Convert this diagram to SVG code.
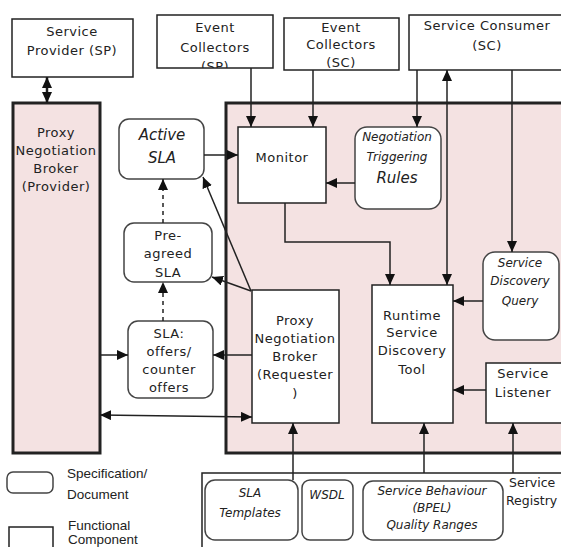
<svg xmlns="http://www.w3.org/2000/svg" width="561" height="547" viewBox="0 0 561 547">
<style>
.box{fill:#fff;stroke:#222;stroke-width:1.5}
.doc{fill:#fff;stroke:#444;stroke-width:1.5}
.pink{fill:#f4e2e2;stroke:#222;stroke-width:3}
.t{font-family:"DejaVu Sans",sans-serif;font-size:13px;letter-spacing:0.5px;fill:#222;text-anchor:middle}
.s{text-anchor:start}
.i{font-family:"DejaVu Sans",sans-serif;font-style:italic;font-size:12px;fill:#222;text-anchor:middle}
.ib{font-family:"DejaVu Sans",sans-serif;font-style:italic;font-size:15px;fill:#222;text-anchor:middle}
.lg{font-family:"Liberation Sans",Arial,sans-serif;font-size:13.5px;fill:#222}
.c{fill:none;stroke:#222;stroke-width:1.5}
.d{fill:none;stroke:#222;stroke-width:1.5;stroke-dasharray:4,4}
</style>
<defs>
<marker id="ah" markerUnits="userSpaceOnUse" markerWidth="11" markerHeight="10" refX="11" refY="5" orient="auto-start-reverse">
<path d="M0,0 L11,5 L0,10 z" fill="#111"/>
</marker>
<clipPath id="ecsp"><rect x="157" y="15" width="116" height="53"/></clipPath>
</defs>
<rect width="561" height="547" fill="#fff"/>

<g id="main-region"><rect class="pink" x="226" y="103" width="345" height="350"/></g>
<g id="registry-region"><rect class="box" x="202" y="473" width="370" height="90"/>
<text class="t s" x="509" y="487" style="letter-spacing:0;font-size:12.5px">Service</text>
<text class="t s" x="506" y="505" style="letter-spacing:0;font-size:12.5px">Registry</text></g>

<g id="sp"><rect class="box" x="12" y="19" width="121" height="58"/>
<text class="t" x="72" y="36">Service</text><text class="t" x="72" y="55">Provider (SP)</text></g>

<g id="ec-sp"><rect class="box" x="157" y="15" width="116" height="53"/>
<g clip-path="url(#ecsp)"><text class="t" x="215" y="32">Event</text><text class="t" x="215" y="52">Collectors</text><text class="t" x="215" y="71">(SP)</text></g></g>

<g id="ec-sc"><rect class="box" x="284" y="18" width="115" height="52"/>
<text class="t" x="341" y="32">Event</text><text class="t" x="341" y="49">Collectors</text><text class="t" x="341" y="67">(SC)</text></g>

<g id="sc"><rect class="box" x="409" y="15" width="162" height="55"/>
<text class="t" x="487" y="30">Service Consumer</text><text class="t" x="487" y="50">(SC)</text></g>

<g id="pnb-provider"><rect class="pink" x="13" y="103" width="87" height="350"/>
<text class="t" x="56" y="137">Proxy</text><text class="t" x="56" y="155">Negotiation</text><text class="t" x="56" y="173">Broker</text><text class="t" x="56" y="191">(Provider)</text></g>

<g id="active-sla"><rect class="doc" x="119" y="119" width="85" height="60" rx="10"/>
<text class="ib" x="162" y="140">Active</text><text class="ib" x="162" y="163">SLA</text></g>

<g id="pre-agreed"><rect class="doc" x="124" y="223" width="88" height="59" rx="10"/>
<text class="t" x="168" y="240">Pre-</text><text class="t" x="168" y="258">agreed</text><text class="t" x="168" y="277">SLA</text></g>

<g id="sla-offers"><rect class="doc" x="128" y="321" width="85" height="77" rx="10"/>
<text class="t" x="169" y="338">SLA:</text><text class="t" x="169" y="356">offers/</text><text class="t" x="169" y="374">counter</text><text class="t" x="169" y="392">offers</text></g>

<g id="monitor"><rect class="box" x="238" y="127" width="88" height="76"/>
<text class="t" x="282" y="162">Monitor</text></g>

<g id="ntr"><rect class="doc" x="355" y="127" width="86" height="82" rx="12"/>
<text class="i" x="397" y="141">Negotiation</text><text class="i" x="397" y="161">Triggering</text><text class="ib" x="397" y="183">Rules</text></g>

<g id="pnb-requester"><rect class="box" x="252" y="290" width="87" height="133"/>
<text class="t" x="295" y="325">Proxy</text><text class="t" x="295" y="343">Negotiation</text><text class="t" x="295" y="361">Broker</text><text class="t" x="295" y="379">(Requester</text><text class="t" x="295" y="398">)</text></g>

<g id="runtime"><rect class="box" x="372" y="285" width="81" height="138"/>
<text class="t" x="412" y="320">Runtime</text><text class="t" x="412" y="337">Service</text><text class="t" x="412" y="355">Discovery</text><text class="t" x="412" y="374">Tool</text></g>

<g id="sdq"><rect class="doc" x="483" y="252" width="76" height="88" rx="12"/>
<text class="i" x="520" y="267">Service</text><text class="i" x="520" y="285">Discovery</text><text class="i" x="520" y="305">Query</text></g>

<g id="listener"><rect class="box" x="486" y="363" width="80" height="60"/>
<text class="t" x="523" y="378">Service</text><text class="t" x="523" y="397">Listener</text></g>

<g id="sla-templates"><rect class="doc" x="205" y="480" width="93" height="60" rx="10"/>
<text class="i" x="250" y="497">SLA</text><text class="i" x="250" y="517">Templates</text></g>

<g id="wsdl"><rect class="doc" x="302" y="480" width="51" height="60" rx="8"/>
<text class="i" x="327" y="499">WSDL</text></g>

<g id="behaviour"><rect class="doc" x="363" y="481" width="140" height="59" rx="10"/>
<text class="i" x="432" y="495">Service Behaviour</text><text class="i" x="432" y="512">(BPEL)</text><text class="i" x="432" y="529">Quality Ranges</text></g>

<g id="legend">
<rect class="doc" x="7" y="472" width="46" height="21" rx="6"/>
<text class="lg" x="67" y="478">Specification/</text><text class="lg" x="67" y="499">Document</text>
<rect class="box" x="9" y="527" width="44" height="26"/>
<text class="lg" x="68" y="530">Functional</text><text class="lg" x="68" y="544">Component</text>
</g>

<g id="connectors">
<line class="c" x1="47" y1="77" x2="47" y2="103" marker-start="url(#ah)" marker-end="url(#ah)" style="stroke-width:2.5"/>
<line class="c" x1="251" y1="68" x2="251" y2="127" marker-end="url(#ah)"/>
<line class="c" x1="313" y1="70" x2="313" y2="127" marker-end="url(#ah)"/>
<line class="c" x1="417" y1="70" x2="417" y2="127" marker-end="url(#ah)"/>
<line class="c" x1="447" y1="70" x2="447" y2="285" marker-start="url(#ah)" marker-end="url(#ah)"/>
<line class="c" x1="512" y1="70" x2="512" y2="252" marker-end="url(#ah)"/>
<line class="c" x1="204" y1="155" x2="238" y2="155" marker-end="url(#ah)"/>
<line class="c" x1="355" y1="183" x2="326" y2="183" marker-end="url(#ah)"/>
<polyline class="c" points="285,203 285,242 390,242 390,285" marker-end="url(#ah)"/>
<line class="c" x1="483" y1="301" x2="453" y2="301" marker-end="url(#ah)"/>
<line class="c" x1="486" y1="390" x2="453" y2="390" marker-end="url(#ah)"/>
<line class="d" x1="163" y1="223" x2="163" y2="179" marker-end="url(#ah)"/>
<line class="d" x1="163" y1="321" x2="163" y2="282" marker-end="url(#ah)"/>
<line class="c" x1="251" y1="291" x2="203" y2="177" marker-end="url(#ah)"/>
<line class="c" x1="251" y1="291" x2="212" y2="277" marker-end="url(#ah)"/>
<line class="c" x1="252" y1="355" x2="213" y2="355" marker-end="url(#ah)"/>
<line class="c" x1="100" y1="355" x2="128" y2="355" marker-end="url(#ah)"/>
<line class="c" x1="100" y1="415" x2="252" y2="417" marker-start="url(#ah)" marker-end="url(#ah)"/>
<line class="c" x1="293" y1="480" x2="293" y2="423" marker-end="url(#ah)"/>
<line class="c" x1="424" y1="473" x2="424" y2="423" marker-end="url(#ah)"/>
<line class="c" x1="513" y1="473" x2="513" y2="423" marker-end="url(#ah)"/>
</g>
</svg>
